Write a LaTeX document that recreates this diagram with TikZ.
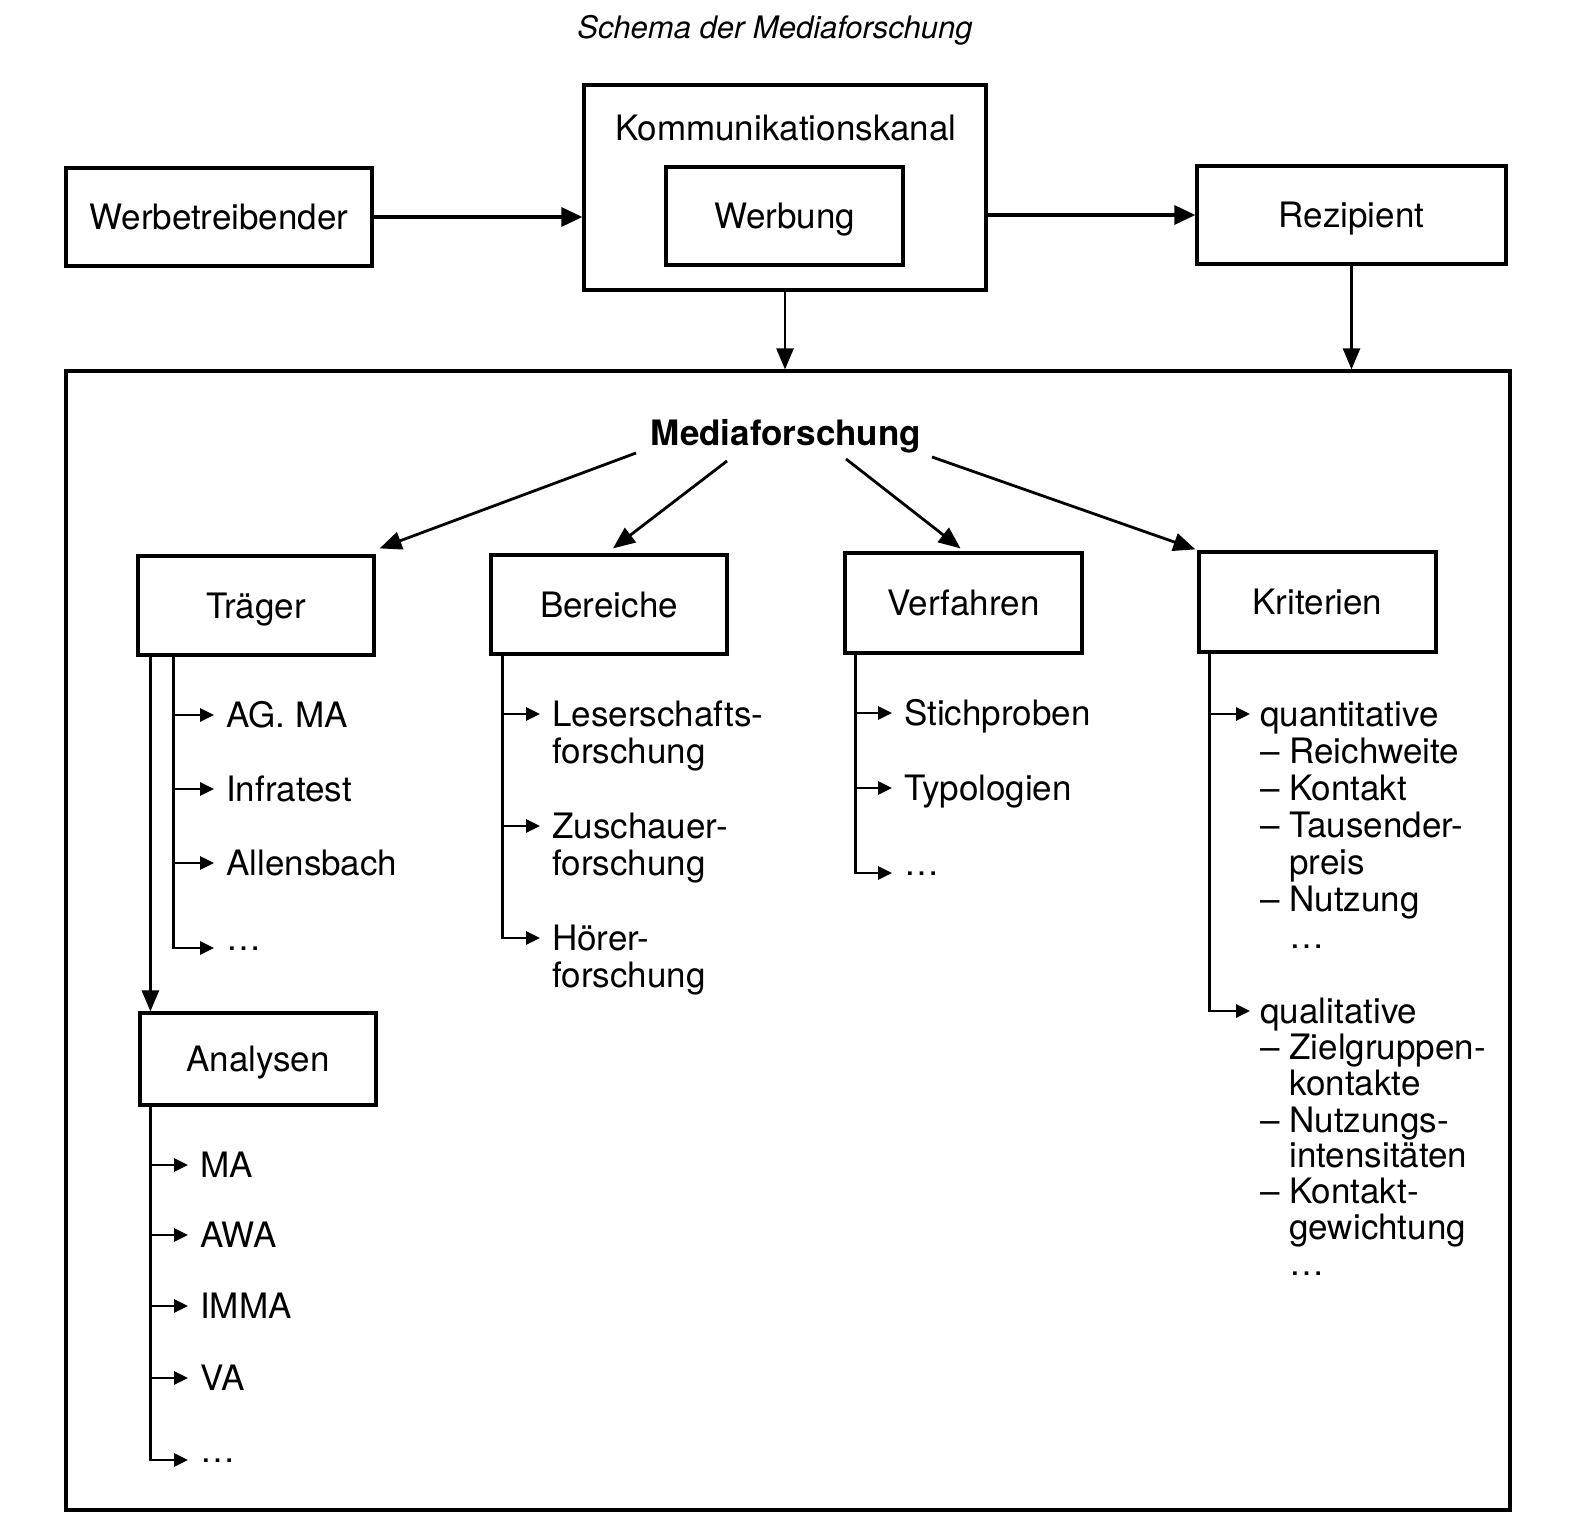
\documentclass[tikz,border=0pt]{standalone}
\usepackage{fontspec}
\setmainfont{TeX Gyre Heros}
\usetikzlibrary{arrows.meta,calc}
\newcommand\mlines[1]{\begin{tabular}[t]{@{}l@{}}#1\end{tabular}}
\begin{document}
\begin{tikzpicture}[x=1pt,y=-1pt,
  every node/.style={font=\fontsize{35}{37}\selectfont},
  box/.style={draw, line width=3.2pt, inner sep=0pt, text height=25.2pt, text depth=0pt},
  frame/.style={draw, line width=3.2pt, inner sep=0pt},
  bigarrow/.style={line width=3.2pt, -{Triangle[length=21pt,width=19pt]}},
  midarrow/.style={line width=2.6pt, -{Triangle[length=21pt,width=17pt]}},
  diag/.style={line width=2.8pt, -{Triangle[length=22pt,width=18pt]}},
  branch/.style={line width=2.8pt, -{Triangle[length=14pt,width=13pt]}},
  item/.style={anchor=base west, inner sep=0pt},
  qual/.style={item, font=\fontsize{35}{35.5}\selectfont}
]
\useasboundingbox (0,0) rectangle (1571,1536);
\fill[white] (0,0) rectangle (1571,1536);

% title
\node[inner sep=0pt, text height=22pt, text depth=0pt, font=\itshape\fontsize{31}{31}\selectfont] (title) at (775,28) {Schema der Mediaforschung};

% top row
\node[box, minimum width=306pt, minimum height=98pt] (werb) at (219,217) {Werbetreibender};
\node[frame, minimum width=402pt, minimum height=205pt] (kanal) at (785,187.5) {};
\node[anchor=base, inner sep=0pt] (kanaltxt) at (786,140.6) {Kommunikationskanal};
\node[box, minimum width=237pt, minimum height=98pt] (werbung) at (784.5,216) {Werbung};
\node[box, minimum width=309pt, minimum height=98pt] (rez) at (1351.5,215) {Rezipient};

% big frame
\node[frame, minimum width=1444pt, minimum height=1139pt] (mf) at (788,940.5) {};
\node[inner sep=0pt, text height=25.2pt, text depth=0pt, font=\bfseries\fontsize{35}{37}\selectfont] (mfo) at (786,433) {Mediaforschung};

\draw[bigarrow] (werb.east) -- (werb.east -| kanal.west);
\draw[bigarrow] (kanal.east |- rez.west) -- (rez.west);
\draw[midarrow] (kanal.south) -- (kanal.south |- mf.north);
\draw[midarrow] (rez.south) -- (rez.south |- mf.north);

% second level boxes
\node[box, minimum width=236pt, minimum height=99pt] (trager) at (256,605.5) {Träger};
\node[box, minimum width=236pt, minimum height=99pt] (bereiche) at (609,604.5) {Bereiche};
\node[box, minimum width=237pt, minimum height=100pt] (verfahren) at (963.5,603) {Verfahren};
\node[box, minimum width=237pt, minimum height=100pt] (kriterien) at (1317.5,602) {Kriterien};
\node[box, minimum width=236pt, minimum height=92pt] (analysen) at (258,1059) {Analysen};

\coordinate (d1) at (636,453);
\coordinate (d2) at (727,461);
\coordinate (d3) at (846,459);
\coordinate (d4) at (932,457);
\draw[diag] (d1) -- ([xshift=4pt,yshift=6pt]trager.north east);
\draw[diag] (d2) -- ([xshift=4pt,yshift=5pt]bereiche.north);
\draw[diag] (d3) -- ([xshift=-3pt,yshift=3pt]verfahren.north);
\draw[diag] (d4) -- ([xshift=-2pt,yshift=1pt]kriterien.north west);

% Traeger items
\node[item] (agma) at (226,727.6) {AG. MA};
\node[item] (infra) at (226,801.6) {Infratest};
\node[item] (allens) at (226,875.6) {Allensbach};
\node[item] (tdots) at (226,950) {…};
\coordinate (tA) at ([xshift=37pt]trager.south west);
\coordinate (tO) at ([xshift=14pt]trager.south west);
\foreach \n in {agma,infra,allens}
  \draw[branch] (tA) |- ([xshift=-12pt,yshift=12.6pt]\n.base west);
\draw[branch] (tA) |- ([xshift=-12pt,yshift=2pt]tdots.base west);
\draw[midarrow] (tO) -- (tO |- analysen.north);

% Analysen items
\node[item] (ma) at (200,1177.6) {MA};
\node[item] (awa) at (200,1247.6) {AWA};
\node[item] (imma) at (200,1318.6) {IMMA};
\node[item] (va) at (200,1390.6) {VA};
\node[item] (adots) at (200,1462) {…};
\coordinate (aA) at ([xshift=12pt]analysen.south west);
\foreach \n in {ma,awa,imma,va}
  \draw[branch] (aA) |- ([xshift=-12pt,yshift=12.6pt]\n.base west);
\draw[branch] (aA) |- ([xshift=-12pt,yshift=2pt]adots.base west);

% Bereiche items
\node[item] (leser) at (552,726.6) {\mlines{Leserschafts-\\forschung}};
\node[item] (zusch) at (552,838.6) {\mlines{Zuschauer-\\forschung}};
\node[item] (hoerer) at (552,950.6) {\mlines{Hörer-\\forschung}};
\coordinate (bA) at ([xshift=13pt]bereiche.south west);
\foreach \n in {leser,zusch,hoerer}
  \draw[branch] (bA) |- ([xshift=-12pt,yshift=12.6pt]\n.base west);

% Verfahren items
\node[item] (stich) at (904,725.6) {Stichproben};
\node[item] (typo) at (904,800.6) {Typologien};
\node[item] (vdots) at (904,875) {…};
\coordinate (vA) at ([xshift=12pt]verfahren.south west);
\foreach \n in {stich,typo}
  \draw[branch] (vA) |- ([xshift=-12pt,yshift=12.6pt]\n.base west);
\draw[branch] (vA) |- ([xshift=-12pt,yshift=2pt]vdots.base west);

% Kriterien items
\node[item] (quant) at (1260,726.6) {\mlines{quantitative\\– Reichweite\\– Kontakt\\– Tausender-\\\hphantom{– }preis\\– Nutzung\\\hphantom{– }…}};
\node[qual] (qual) at (1260,1023.6) {\mlines{qualitative\\– Zielgruppen-\\\hphantom{– }kontakte\\– Nutzungs-\\\hphantom{– }intensitäten\\– Kontakt-\\\hphantom{– }gewichtung\\\hphantom{– }…}};
\coordinate (kA) at ([xshift=12pt]kriterien.south west);
\foreach \n in {quant,qual}
  \draw[branch] (kA) |- ([xshift=-10pt,yshift=12.6pt]\n.base west);
\end{tikzpicture}
\end{document}
